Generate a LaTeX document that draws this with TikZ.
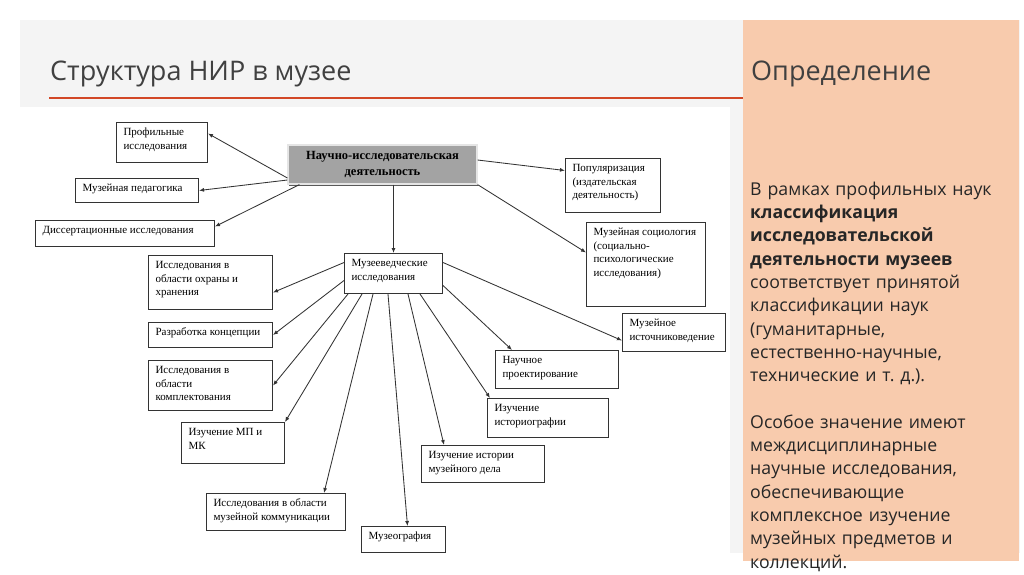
\documentclass[tikz,border=0pt]{standalone}
\usepackage{fontspec}
\setmainfont{Liberation Serif}
\newfontfamily\uifont{Open Sans}
\usetikzlibrary{arrows.meta,shadows}
\definecolor{slidebg}{HTML}{F4F4F4}
\definecolor{peach}{HTML}{F8CBAD}
\definecolor{redline}{HTML}{D24726}
\definecolor{titlecol}{HTML}{404040}
\definecolor{bodycol}{HTML}{262626}
\definecolor{boxline}{HTML}{333333}
\definecolor{nidfill}{HTML}{A3A3A3}
\tikzset{
  box/.style={draw=boxline, line width=1pt, inner xsep=7pt, inner ysep=4pt,
    fill=white, text=black, font=\fontsize{11}{13.5}\selectfont},
  arr/.style={draw=boxline, line width=0.85pt, -{Latex[length=5pt,width=4pt]}},
  nidbox/.style={draw=white!80!gray, line width=1.2pt, fill=nidfill, align=center,
    minimum width=189pt, minimum height=39pt, inner sep=2pt,
    font=\bfseries\fontsize{12.5}{15.5}\selectfont,
    drop shadow={shadow xshift=1pt, shadow yshift=-2pt, fill=gray!70!black, opacity=1}},
  ttl/.style={anchor=base west, text=titlecol, inner sep=0pt,
    font=\uifont\fontsize{27}{32}\selectfont},
  body/.style={anchor=north west, text=bodycol, inner sep=0pt, align=left,
    text width=272pt, font=\uifont\fontsize{17.7}{23.3}\selectfont}
}
\newcommand\mybox[6]{%
  \pgfmathsetmacro\myw{#4-#2}\pgfmathsetmacro\myh{#5-#3}%
  \node[box,anchor=north west] (#1) at (#2,#3)
    {\parbox[c][\dimexpr\myh pt-8pt\relax][t]{\dimexpr\myw pt-14pt\relax}{\raggedright\strut #6}};%
}
\begin{document}
\begin{tikzpicture}[x=1pt,y=-1pt]
\useasboundingbox (0,0) rectangle (1024,574);
\fill[white] (0,0) rectangle (1024,574);
\fill[slidebg] (20,20) rectangle (1020,553);
\fill[white] (20,107) rectangle (730,553);
\fill[peach] (743,20) rectangle (1019,561);
\draw[redline, line width=2pt] (49,98) -- (743,98);

\node[ttl] (title) at (50,80) {Структура НИР в музее};
\node[ttl] (deftitle) at (751,80) {Определение};
\node[body] (deftext) at (750,178.7) {\strut В рамках профильных наук\\
\textbf{классификация}\\
\textbf{исследовательской}\\
\textbf{деятельности музеев}\\
соответствует принятой\\
классификации наук\\
(гуманитарные,\\
естественно-научные,\\
технические и т.~д.).\\[23.3pt]
Особое значение имеют\\
междисциплинарные\\
научные исследования,\\
обеспечивающие\\
комплексное изучение\\
музейных предметов и\\
коллекций.};

% central node
\node[nidbox] (nid) at (382.5,164.5) {Научно-исследовательская\\деятельность};

% boxes
\mybox{prof}{116}{122}{207}{162}{Профильные\\исследования}
\mybox{ped}{75}{178}{198}{202}{Музейная педагогика}
\mybox{diss}{35}{220}{214}{246}{Диссертационные исследования}
\mybox{pop}{565}{158}{660}{212}{Популяризация\\(издательская\\деятельность)}
\mybox{soc}{586}{222}{705}{306}{Музейная социология\\(социально-\\психологические\\исследования)}
\mybox{mv}{344}{253}{442}{293}{Музееведческие\\исследования}
\mybox{ohr}{148}{255}{272}{309}{Исследования в\\области охраны и\\хранения}
\mybox{konc}{148}{322}{272}{347}{Разработка концепции}
\mybox{kompl}{148}{360}{272}{410}{Исследования в\\области\\комплектования}
\mybox{mpmk}{181}{422}{284}{463}{Изучение МП и\\МК}
\mybox{komm}{206}{493}{345}{530}{Исследования в области\\музейной коммуникации}
\mybox{mgr}{361}{526}{445}{552}{Музеография}
\mybox{ist}{421}{445}{544}{482}{Изучение истории\\музейного дела}
\mybox{histo}{487}{398}{608}{437}{Изучение\\историографии}
\mybox{proj}{495}{350}{618}{388}{Научное\\проектирование}
\mybox{src}{622}{313}{725}{351}{Музейное\\источниковедение}

% connectors from central node
\draw[arr] ([yshift=-13.5pt]nid.west) -- ([yshift=9pt]prof.east);
\draw[arr] ([yshift=-15.5pt]nid.west) -- (ped.east);
\draw[arr] ([xshift=12pt]nid.south west) -- ([yshift=7pt]diss.east);
\draw[arr] ([yshift=4.5pt]nid.east) -- ([yshift=15pt]pop.west);
\draw[arr] (nid.south east) -- ([yshift=12pt]soc.west);
\draw[arr] ([xshift=11pt]nid.south) -- (mv.north);

% connectors from mv
\draw[arr] ([yshift=11pt]mv.west) -- ([yshift=-10pt]ohr.east);
\draw[arr] ([yshift=-7pt]mv.west) -- (konc.east);
\draw[arr] ([xshift=4pt]mv.south west) -- (kompl.east);
\draw[arr] ([xshift=18pt]mv.south west) -- (mpmk.north east);
\draw[arr] ([xshift=29pt]mv.south west) -- ([xshift=-22pt]komm.north east);
\draw[arr] ([xshift=44pt]mv.south west) -- ([xshift=4pt]mgr.north);
\draw[arr] ([xshift=64pt]mv.south west) -- ([xshift=23pt]ist.north west);
\draw[arr] ([xshift=76pt]mv.south west) -- ([xshift=3pt]histo.north west);
\draw[arr] ([yshift=-12pt]mv.east) -- ([xshift=17pt]proj.north west);
\draw[arr] ([yshift=11pt]mv.east) -- ([yshift=-8pt]src.west);
\end{tikzpicture}
\end{document}
